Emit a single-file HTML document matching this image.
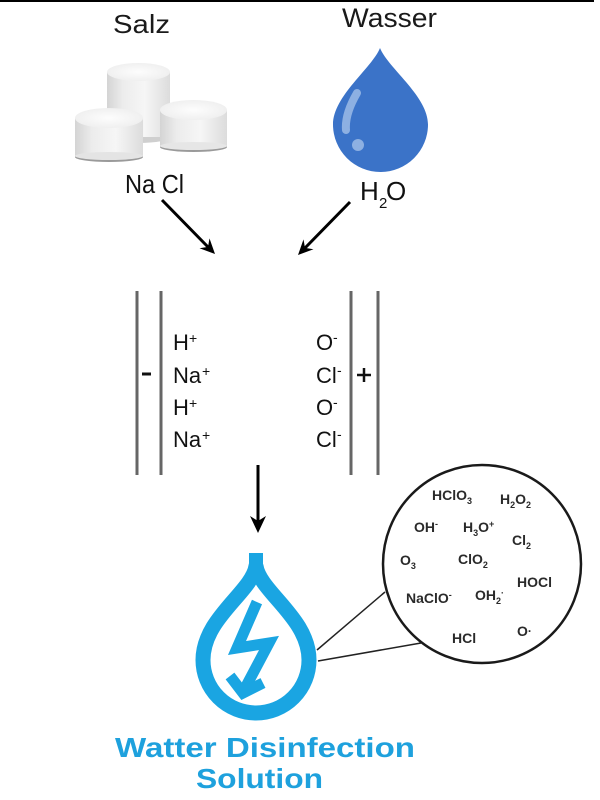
<!DOCTYPE html>
<html><head><meta charset="utf-8"><style>
html,body{margin:0;padding:0;background:#fff;}
svg{display:block;}
</style></head><body>
<svg width="600" height="800" viewBox="0 0 600 800" xmlns="http://www.w3.org/2000/svg" font-family="Liberation Sans, Arial, sans-serif">
<defs>
<linearGradient id="body" x1="0" x2="1" y1="0" y2="0">
<stop offset="0" stop-color="#d4d4d4"/><stop offset="0.25" stop-color="#ececec"/><stop offset="0.6" stop-color="#f6f6f6"/><stop offset="1" stop-color="#dcdcdc"/>
</linearGradient>
<radialGradient id="topg" cx="0.5" cy="0.5" r="0.6">
<stop offset="0" stop-color="#fdfdfd"/><stop offset="1" stop-color="#ededed"/>
</radialGradient>
</defs>
<rect width="600" height="800" fill="#fff"/>
<line x1="0" y1="1" x2="594" y2="1" stroke="#000" stroke-width="2"/>

<!-- Titles -->
<text x="113" y="33" font-size="26" fill="#1a1a1a" textLength="57" lengthAdjust="spacingAndGlyphs">Salz</text>
<text x="342" y="27" font-size="27" fill="#1a1a1a" textLength="95" lengthAdjust="spacingAndGlyphs">Wasser</text>

<!-- Salt pills -->
<g>
<ellipse cx="138.5" cy="137" rx="31.5" ry="6" fill="#cfcfcf"/>
<rect x="107" y="72" width="63" height="65" fill="url(#body)"/>
<ellipse cx="138.5" cy="72" rx="31.5" ry="9" fill="url(#topg)"/>
<ellipse cx="193.5" cy="147" rx="33.5" ry="5" fill="#9a9a9a"/>
<rect x="160" y="110" width="67" height="36" fill="url(#body)"/>
<ellipse cx="193.5" cy="146" rx="33.5" ry="4" fill="#e6e6e6"/>
<ellipse cx="193.5" cy="110" rx="33.5" ry="10" fill="url(#topg)"/>
<ellipse cx="109" cy="157" rx="34" ry="5" fill="#9a9a9a"/>
<rect x="75" y="118" width="68" height="38" fill="url(#body)"/>
<ellipse cx="109" cy="156" rx="34" ry="4" fill="#e4e4e4"/>
<ellipse cx="109" cy="118" rx="34" ry="10" fill="url(#topg)"/>
</g>

<!-- Water drop -->
<path d="M380,48 C372,68 333,96 333,124.5 A47.5,47.5 0 0 0 428,124.5 C428,96 388,68 380,48 Z" fill="#3b73c8"/>
<path d="M357,93 C350,105 345,118 346,130" stroke="#8db0e2" stroke-width="8" fill="none" stroke-linecap="round"/>
<circle cx="358" cy="145" r="6" fill="#8db0e2"/>

<text x="125" y="193" font-size="26" fill="#111" textLength="59" lengthAdjust="spacingAndGlyphs">Na Cl</text>
<text x="360" y="200" font-size="26" fill="#111">H</text>
<text x="379" y="208" font-size="15" fill="#111">2</text>
<text x="386" y="200" font-size="26" fill="#111">O</text>

<!-- arrows -->
<line x1="162" y1="200" x2="208" y2="247" stroke="#000" stroke-width="3"/>
<polygon points="215,254 199.5,248.2 208,246.9 209.5,238.4" fill="#000"/>
<line x1="350" y1="202" x2="305" y2="248" stroke="#000" stroke-width="3"/>
<polygon points="298,255 303.5,239.4 305,247.9 313.5,249.2" fill="#000"/>

<!-- electrodes -->
<g stroke="#666" stroke-width="3">
<line x1="137" y1="291" x2="137" y2="475"/>
<line x1="161" y1="291" x2="161" y2="475"/>
<line x1="351" y1="291" x2="351" y2="475"/>
<line x1="378" y1="291" x2="378" y2="475"/>
</g>
<line x1="142" y1="374" x2="151" y2="374" stroke="#111" stroke-width="3"/>
<line x1="357" y1="375" x2="371" y2="375" stroke="#111" stroke-width="2.5"/>
<line x1="364" y1="368" x2="364" y2="382" stroke="#111" stroke-width="2.5"/>

<g font-size="22" fill="#111">
<text x="173" y="350">H</text><text x="189" y="343" font-size="14">+</text>
<text x="173" y="383">Na</text><text x="202" y="376" font-size="14">+</text>
<text x="173" y="415">H</text><text x="189" y="408" font-size="14">+</text>
<text x="173" y="447">Na</text><text x="202" y="440" font-size="14">+</text>
<text x="316" y="350">O</text><text x="333" y="342" font-size="14">-</text>
<text x="316" y="383">Cl</text><text x="337" y="375" font-size="14">-</text>
<text x="316" y="415">O</text><text x="333" y="407" font-size="14">-</text>
<text x="316" y="447">Cl</text><text x="337" y="439" font-size="14">-</text>
</g>

<!-- down arrow -->
<line x1="258" y1="465" x2="258" y2="522" stroke="#000" stroke-width="3"/>
<polygon points="258,533 250,516 258,521 266,516" fill="#000"/>

<!-- connectors -->
<line x1="317" y1="650" x2="385" y2="592" stroke="#222" stroke-width="1.5"/>
<line x1="318" y1="661" x2="421" y2="643" stroke="#222" stroke-width="1.5"/>

<!-- circle -->
<circle cx="482" cy="564" r="99" fill="#fff" stroke="#1a1a1a" stroke-width="2.5"/>
<g font-size="14" font-weight="bold" fill="#2a2a2a">
<text x="432" y="500">HClO<tspan font-size="9" dy="4">3</tspan></text>
<text x="500" y="504">H<tspan font-size="9" dy="4">2</tspan><tspan dy="-4">O</tspan><tspan font-size="9" dy="4">2</tspan></text>
<text x="414" y="532">OH<tspan font-size="9" dy="-5">-</tspan></text>
<text x="463" y="532">H<tspan font-size="9" dy="4">3</tspan><tspan dy="-4">O</tspan><tspan font-size="9" dy="-5">+</tspan></text>
<text x="512" y="545">Cl<tspan font-size="9" dy="4">2</tspan></text>
<text x="400" y="565">O<tspan font-size="9" dy="4">3</tspan></text>
<text x="458" y="564">ClO<tspan font-size="9" dy="4">2</tspan></text>
<text x="517" y="587">HOCl</text>
<text x="406" y="603">NaClO<tspan font-size="9" dy="-5">-</tspan></text>
<text x="475" y="600">OH<tspan font-size="9" dy="4">2</tspan><tspan font-size="9" dy="-8">·</tspan></text>
<text x="452" y="643">HCl</text>
<text x="517" y="636">O<tspan font-size="12" dy="-1">·</tspan></text>
</g>

<!-- disinfection drop -->
<g fill="none" stroke="#1aa5e2" stroke-width="15">
<path d="M256,566 C260,592 309,618 309,660 A53,53 0 1 1 203,660 C203,618 252,592 256,566 Z" stroke-linejoin="round"/>
</g>
<rect x="249" y="553" width="14" height="20" fill="#1aa5e2"/>
<g fill="none" stroke="#1aa5e2" stroke-width="11" stroke-linejoin="miter">
<polyline points="257,602 237,648 269,643 243,692"/>
<polyline points="230,676 243,693 263,683"/>
</g>

<text x="115" y="757" font-size="28" font-weight="bold" fill="#1ea1dd" textLength="300" lengthAdjust="spacingAndGlyphs">Watter Disinfection</text>
<text x="196" y="788" font-size="28" font-weight="bold" fill="#1ea1dd" textLength="127" lengthAdjust="spacingAndGlyphs">Solution</text>
</svg>
</body></html>
